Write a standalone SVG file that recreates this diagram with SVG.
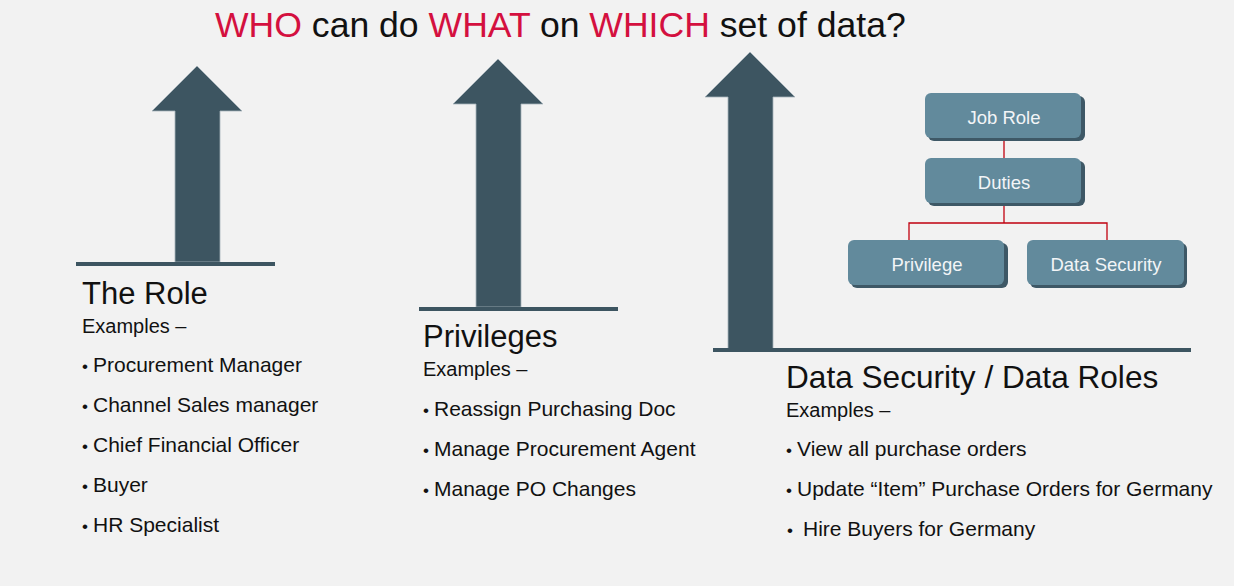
<svg xmlns="http://www.w3.org/2000/svg" width="1234" height="586" viewBox="0 0 1234 586">
<defs>
<style>
text{font-family:"Liberation Sans",Arial,sans-serif;fill:#111}
.title{font-size:35.6px}
.red{fill:#d4103f}
.head{font-size:31px}
.ex{font-size:20px}
.item{font-size:21px}
.dot{font-size:17px}
.arrow{fill:#3d5561;stroke:#a7b4bb;stroke-width:0.8}
.base{fill:#3d5561}
.box{fill:#628a9c}
.shadow{fill:#3e5866}
.boxtxt{font-size:18.5px;fill:#f2f5f7;text-anchor:middle}
.conn{stroke:#c0000f;stroke-width:1.3;fill:none}
</style>
</defs>
<rect width="1234" height="586" fill="#f2f2f2"/>

<g id="title">
<text class="title" x="215" y="37"><tspan class="red">WHO</tspan> can do <tspan class="red">WHAT</tspan> on <tspan class="red">WHICH</tspan> set of data?</text>
</g>

<g id="role">
<polygon class="arrow" points="197,66 242,111 220,111 220,262 175,262 175,111 152,111"/>
<rect class="base" x="76" y="262" width="199" height="4"/>
<text class="head" x="82" y="304">The Role</text>
<text class="ex" x="82" y="333">Examples –</text>
<text class="item"><tspan class="dot" x="82" y="372">•</tspan><tspan x="93" y="372">Procurement Manager</tspan></text>
<text class="item"><tspan class="dot" x="82" y="412">•</tspan><tspan x="93" y="412">Channel Sales manager</tspan></text>
<text class="item"><tspan class="dot" x="82" y="452">•</tspan><tspan x="93" y="452">Chief Financial Officer</tspan></text>
<text class="item"><tspan class="dot" x="82" y="492">•</tspan><tspan x="93" y="492">Buyer</tspan></text>
<text class="item"><tspan class="dot" x="82" y="532">•</tspan><tspan x="93" y="532">HR Specialist</tspan></text>
</g>

<g id="privileges">
<polygon class="arrow" points="498,59 543,104 521,104 521,307 476,307 476,104 453,104"/>
<rect class="base" x="419" y="307" width="199" height="4"/>
<text class="head" x="423" y="347">Privileges</text>
<text class="ex" x="423" y="376">Examples –</text>
<text class="item"><tspan class="dot" x="423" y="416">•</tspan><tspan x="434" y="416">Reassign Purchasing Doc</tspan></text>
<text class="item"><tspan class="dot" x="423" y="456">•</tspan><tspan x="434" y="456">Manage Procurement Agent</tspan></text>
<text class="item"><tspan class="dot" x="423" y="496">•</tspan><tspan x="434" y="496">Manage PO Changes</tspan></text>
</g>

<g id="data-security">
<polygon class="arrow" points="750,52 795,97 773,97 773,349 728,349 728,97 705,97"/>
<rect class="base" x="713" y="348" width="478" height="4"/>
<text class="head" x="786" y="388" style="font-size:31.6px">Data Security / Data Roles</text>
<text class="ex" x="786" y="417">Examples –</text>
<text class="item"><tspan class="dot" x="786" y="456">•</tspan><tspan x="797" y="456">View all purchase orders</tspan></text>
<text class="item"><tspan class="dot" x="786" y="496">•</tspan><tspan x="797" y="496">Update “Item” Purchase Orders for Germany</tspan></text>
<text class="item"><tspan class="dot" x="787" y="536">•</tspan><tspan x="803" y="536">Hire Buyers for Germany</tspan></text>
</g>

<g id="connectors">
<line class="conn" x1="1004" y1="140" x2="1004" y2="158"/>
<polyline class="conn" points="1004,205 1004,223"/>
<polyline class="conn" points="909,240 909,223 1107,223 1107,240"/>
</g>

<g id="job-role">
<rect class="shadow" x="928" y="96" width="157" height="45" rx="6"/>
<rect class="box" x="925" y="93" width="156" height="45" rx="6"/>
<text class="boxtxt" x="1004" y="124">Job Role</text>
</g>
<g id="duties">
<rect class="shadow" x="928" y="161" width="157" height="45" rx="6"/>
<rect class="box" x="925" y="158" width="156" height="45" rx="6"/>
<text class="boxtxt" x="1004" y="189">Duties</text>
</g>
<g id="privilege">
<rect class="shadow" x="851" y="243" width="157" height="45" rx="6"/>
<rect class="box" x="848" y="240" width="156" height="45" rx="6"/>
<text class="boxtxt" x="927" y="271">Privilege</text>
</g>
<g id="data-security-box">
<rect class="shadow" x="1030" y="243" width="157" height="45" rx="6"/>
<rect class="box" x="1027" y="240" width="157" height="45" rx="6"/>
<text class="boxtxt" x="1106" y="271">Data Security</text>
</g>
</svg>
